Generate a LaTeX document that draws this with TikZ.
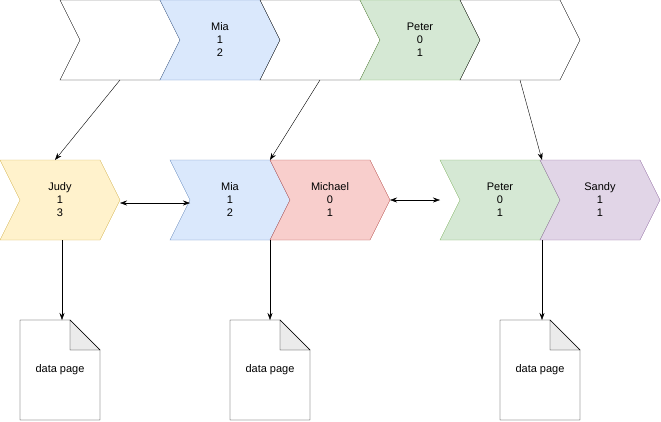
\documentclass[tikz,border=0pt]{standalone}
\usepackage{fontspec}
\setmainfont{Liberation Sans}
\usetikzlibrary{arrows.meta}
\definecolor{blueF}{HTML}{DAE8FC}\definecolor{blueD}{HTML}{6C8EBF}
\definecolor{greenF}{HTML}{D5E8D4}\definecolor{greenD}{HTML}{82B366}
\definecolor{yellowF}{HTML}{FFF2CC}\definecolor{yellowD}{HTML}{D6B656}
\definecolor{redF}{HTML}{F8CECC}\definecolor{redD}{HTML}{B85450}
\definecolor{purpleF}{HTML}{E1D5E7}\definecolor{purpleD}{HTML}{9673A6}
% chevron: name, x, y, fill, draw, text
\newcommand{\chev}[6]{%
  \draw[fill=#4,draw=#5] (#2,#3) -- ++(100,0) -- ++(20,40) -- ++(-20,40) -- ++(-100,0) -- ++(20,-40) -- cycle;
  \node[align=center] (#1) at (#2+60,#3+40) {#6};}
\newcommand{\datapage}[3]{%
  \draw[fill=white] (#2,#3) -- ++(50,0) -- ++(30,30) -- ++(0,70) -- ++(-80,0) -- cycle;
  \draw[fill=black!8] (#2+50,#3) -- ++(0,30) -- ++(30,0) -- cycle;
  \node (#1) at (#2+40,#3+50) {data page};}
\begin{document}
\begin{tikzpicture}[x=1pt,y=-1pt,font=\fontsize{11}{13}\selectfont,
  arr/.style={-{Stealth[length=7pt,width=5pt]}},
  darr/.style={{Stealth[length=7pt,width=5pt]}-{Stealth[length=7pt,width=5pt]}}]
\useasboundingbox (0,0) rectangle (661,421);
% top row
\chev{t1}{60}{0}{white}{black}{}
\chev{t2}{160}{0}{blueF}{blueD}{Mia\\1\\2}
\chev{t3}{260}{0}{white}{black}{}
\chev{t4}{360}{0}{greenF}{greenD}{Peter\\0\\1}
\chev{t5}{460}{0}{white}{black}{}
% middle row
\chev{judy}{0}{160}{yellowF}{yellowD}{Judy\\1\\3}
\chev{mia}{170}{160}{blueF}{blueD}{Mia\\1\\2}
\chev{michael}{270}{160}{redF}{redD}{Michael\\0\\1}
\chev{peter}{440}{160}{greenF}{greenD}{Peter\\0\\1}
\chev{sandy}{540}{160}{purpleF}{purpleD}{Sandy\\1\\1}
% pages
\datapage{p1}{20}{320}
\datapage{p2}{230}{320}
\datapage{p3}{500}{320}
\coordinate (a1) at (120,80); \coordinate (b1) at (55,160);
\coordinate (a2) at (320,80); \coordinate (b2) at (270,160);
\coordinate (a3) at (520,80); \coordinate (b3) at (542,160);
\draw[arr] (a1) -- (b1);
\draw[arr] (a2) -- (b2);
\draw[arr] (a3) -- (b3);
\draw[darr] (120,203) -- (190,203);
\draw[darr] (390,200) -- (440,200);
\draw[arr] (62,240) -- (62,320);
\draw[arr] (270,240) -- (270,320);
\draw[arr] (542,240) -- (542,320);
\end{tikzpicture}
\end{document}
